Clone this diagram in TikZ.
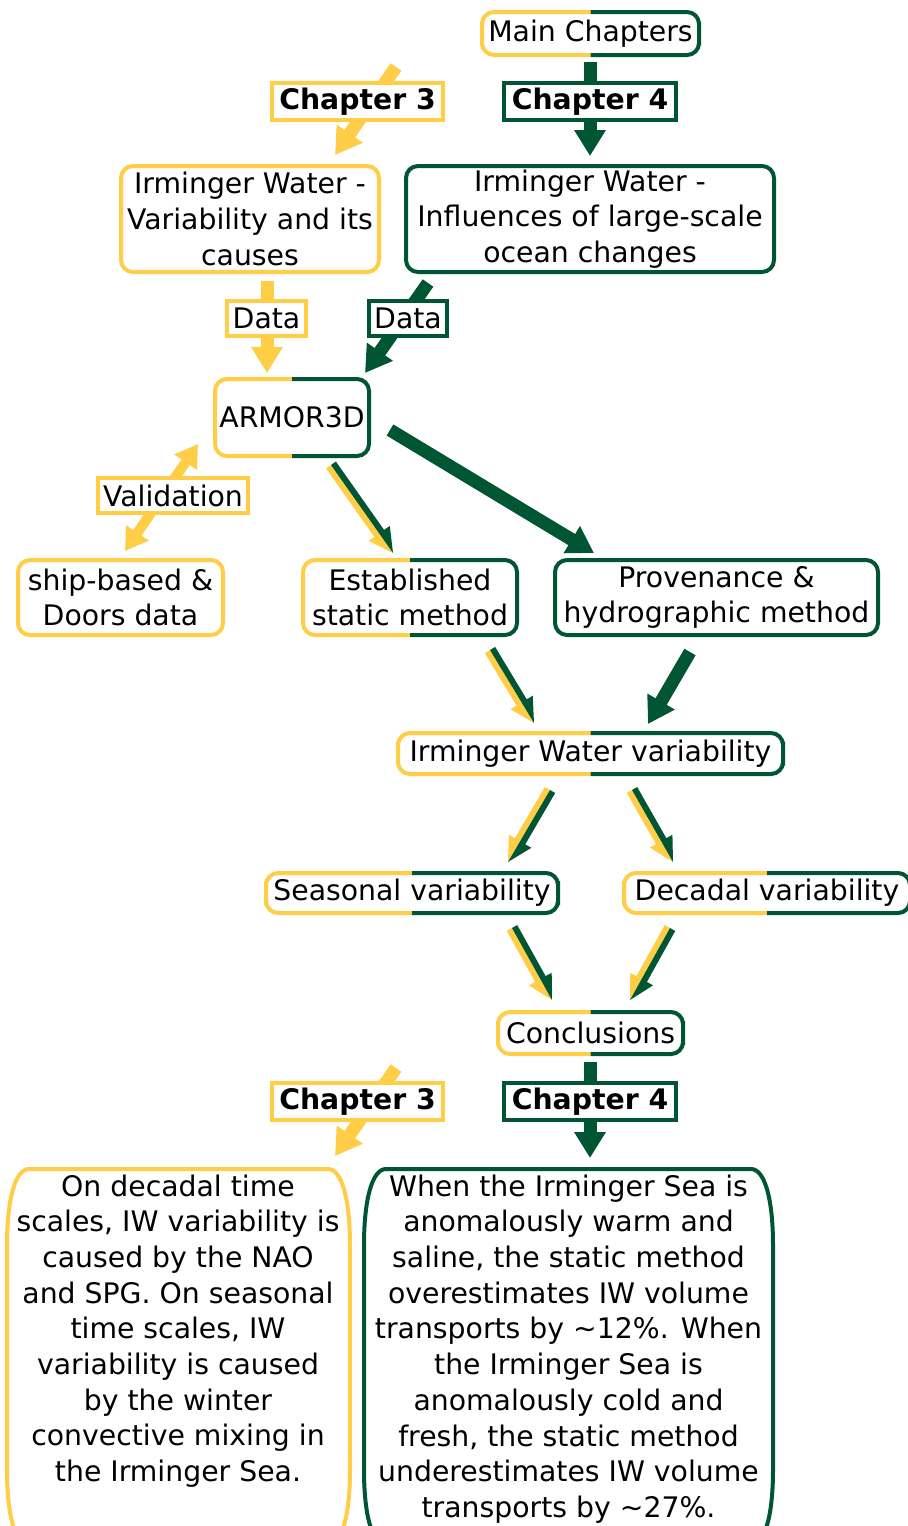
\documentclass[tikz,border=0pt]{standalone}
\usepackage{fontspec}
\setmainfont{DejaVu Sans}
\usetikzlibrary{arrows.meta,calc,backgrounds}
\definecolor{yel}{RGB}{255,205,70}
\definecolor{grn}{RGB}{0,86,50}
\newcommand{\halfbox}[1]
{\draw[yel,boxline] (#1.north) -| (#1.west) |- (#1.south);
 \draw[grn,boxline] (#1.north) -| (#1.east) |- (#1.south);
}
\newcommand{\twoarrow}[2]
{\coordinate (tipbase) at ($(#2)!12pt!(#1)$);
 \fill[yel] (#1) -- ($(#1)!3pt!-90:(#2)$) -- ($(tipbase)!3pt!-90:(#2)$)
   -- ($(tipbase)!6.5pt!-90:(#2)$) -- (#2) -- cycle;
 \fill[grn] (#1) -- ($(#1)!3pt!90:(#2)$) -- ($(tipbase)!3pt!90:(#2)$)
   -- ($(tipbase)!6.5pt!90:(#2)$) -- (#2) -- cycle;
}
\newcommand{\tallbox}[3]
{\draw[#1,line width=2pt] (#2+22,1169) -- (#3-22,1169)
   .. controls (#3-8,1169) and (#3,1200) .. (#3,1245) -- (#3,1470)
   .. controls (#3,1515) and (#3-8,1545) .. (#3-22,1545) -- (#2+22,1545)
   .. controls (#2+8,1545) and (#2,1515) .. (#2,1470) -- (#2,1245)
   .. controls (#2,1200) and (#2+8,1169) .. cycle;
}
\tikzset{
  every node/.style={font=\fontsize{14.15pt}{17.85pt}\selectfont,inner sep=0pt,outer sep=0pt,align=center},
  boxsize/.style 2 args={minimum width=#1*0.5pt,minimum height=#2*0.5pt},
  boxline/.style={line width=2pt,rounded corners=6pt},
  ylbox/.style={boxline,draw=yel,fill=white},
  gnbox/.style={boxline,draw=grn,fill=white},
  twobox/.style={fill=white,rounded corners=6pt},
  chapbox/.style={line width=2pt,fill=white,font=\fontsize{14.15pt}{17.85pt}\selectfont\bfseries},
  labbox/.style={line width=2pt,fill=white},
  fatarrow/.style={line width=6.5pt,-{Triangle[width=15pt,length=13pt]}},
  valarrow/.style={yel,line width=5pt,{Triangle[width=13pt,length=11pt]}-{Triangle[width=13pt,length=11pt]}},
}

\begin{document}
\begin{tikzpicture}[x={(0.5pt,0)},y={(0,-0.5pt)}]
\useasboundingbox (0,0) rectangle (908,1526);

% boxes
\node[twobox,boxsize={217}{43}] (main) at (590.5,33.5) {Main Chapters};
\halfbox{main}
\node[chapbox,draw=yel,boxsize={171}{37}] (ch3a) at (357.5,101.5) {Chapter 3};
\node[chapbox,draw=grn,boxsize={172}{37}] (ch4a) at (590,101.5) {Chapter 4};
\node[ylbox,boxsize={258}{106}] (iw3) at (250,219) {Irminger Water -\\Variability and its\\causes};
\node[gnbox,boxsize={368}{106}] (iw4) at (590,219) {Irminger Water -\\Influences of large-scale\\ocean changes};
\node[labbox,draw=yel,boxsize={79}{35}] (data3) at (266.5,318.5) {Data};
\node[labbox,draw=grn,boxsize={78}{35}] (data4) at (408,318.5) {Data};
\node[twobox,boxsize={154}{77}] (armor) at (292,417.5) {ARMOR3D};
\halfbox{armor}
\node[labbox,draw=yel,boxsize={150}{35}] (valid) at (173,495.5) {Validation};
\node[ylbox,boxsize={205}{75}] (ship) at (120.5,597.5) {ship-based \&\\Doors data};
\node[twobox,boxsize={214}{75}] (est) at (410,597.5) {Established\\static method};
\halfbox{est}
\node[gnbox,boxsize={323}{75}] (prov) at (716.5,597.5) {Provenance \&\\hydrographic method};
\node[twobox,boxsize={385}{41}] (iwv) at (590.5,753.5) {Irminger Water variability};
\halfbox{iwv}
\node[twobox,boxsize={292}{40}] (seas) at (412,893) {Seasonal variability};
\halfbox{seas}
\node[twobox,boxsize={286}{40}] (dec) at (767,893) {Decadal variability};
\halfbox{dec}
\node[twobox,boxsize={185}{42}] (concl) at (590.5,1033) {Conclusions};
\halfbox{concl}
\node[chapbox,draw=yel,boxsize={171}{37}] (ch3b) at (357.5,1101.5) {Chapter 3};
\node[chapbox,draw=grn,boxsize={172}{37}] (ch4b) at (590,1101.5) {Chapter 4};
\node (sum3) at (178,1331) {On decadal time\\scales, IW variability is\\caused by the NAO\\and SPG. On seasonal\\time scales, IW\\variability is caused\\by the winter\\convective mixing in\\the Irminger Sea.};
\node (sum4) at (568.5,1349) {When the Irminger Sea is\\anomalously warm and\\saline, the static method\\overestimates IW volume\\transports by ∼12\%. When\\the Irminger Sea is\\anomalously cold and\\fresh, the static method\\underestimates IW volume\\transports by ∼27\%.};
\tallbox{yel}{7}{350}
\tallbox{grn}{364}{773}

% arrow ends
\coordinate (main-out) at (590,62);
\coordinate (iw4-in) at (590,156);
\coordinate (ch3a-from) at (396,67);
\coordinate (iw3-in) at (335,155);
\coordinate (iw3-out) at (267,281);
\coordinate (armor-in3) at (267,373);
\coordinate (iw4-out) at (428,283);
\coordinate (armor-in4) at (365,373);
\coordinate (armor-val) at (198,444);
\coordinate (ship-val) at (125,551);
\coordinate (armor-est) at (331,465);
\coordinate (est-in) at (393,553);
\coordinate (armor-prov) at (390,430);
\coordinate (prov-in) at (594,553);
\coordinate (est-out) at (490,650);
\coordinate (iwv-in1) at (534,723);
\coordinate (prov-out) at (690,652);
\coordinate (iwv-in2) at (648,724);
\coordinate (iwv-out1) at (550,790);
\coordinate (seas-in) at (508,862);
\coordinate (iwv-out2) at (632,790);
\coordinate (dec-in) at (673,862);
\coordinate (seas-out) at (512,928);
\coordinate (concl-in1) at (552,1000);
\coordinate (dec-out) at (670,928);
\coordinate (concl-in2) at (630,1000);
\coordinate (ch3b-from) at (396,1068);
\coordinate (sum3-in) at (335,1156);
\coordinate (concl-out) at (590,1062);
\coordinate (sum4-in) at (590,1158);

% arrows
\begin{pgfonlayer}{background}
	\draw[fatarrow,grn] (main-out) -- (iw4-in);
	\draw[fatarrow,yel] (ch3a-from) -- (iw3-in);
	\draw[fatarrow,yel] (iw3-out) -- (armor-in3);
	\draw[fatarrow,grn] (iw4-out) -- (armor-in4);
	\draw[valarrow] (armor-val) -- (ship-val);
	\twoarrow{armor-est}{est-in}
	\draw[fatarrow,grn] (armor-prov) -- (prov-in);
	\twoarrow{est-out}{iwv-in1}
	\draw[fatarrow,grn] (prov-out) -- (iwv-in2);
	\twoarrow{iwv-out1}{seas-in}
	\twoarrow{iwv-out2}{dec-in}
	\twoarrow{seas-out}{concl-in1}
	\twoarrow{dec-out}{concl-in2}
	\draw[fatarrow,yel] (ch3b-from) -- (sum3-in);
	\draw[fatarrow,grn] (concl-out) -- (sum4-in);
\end{pgfonlayer}

\end{tikzpicture}
\end{document}
